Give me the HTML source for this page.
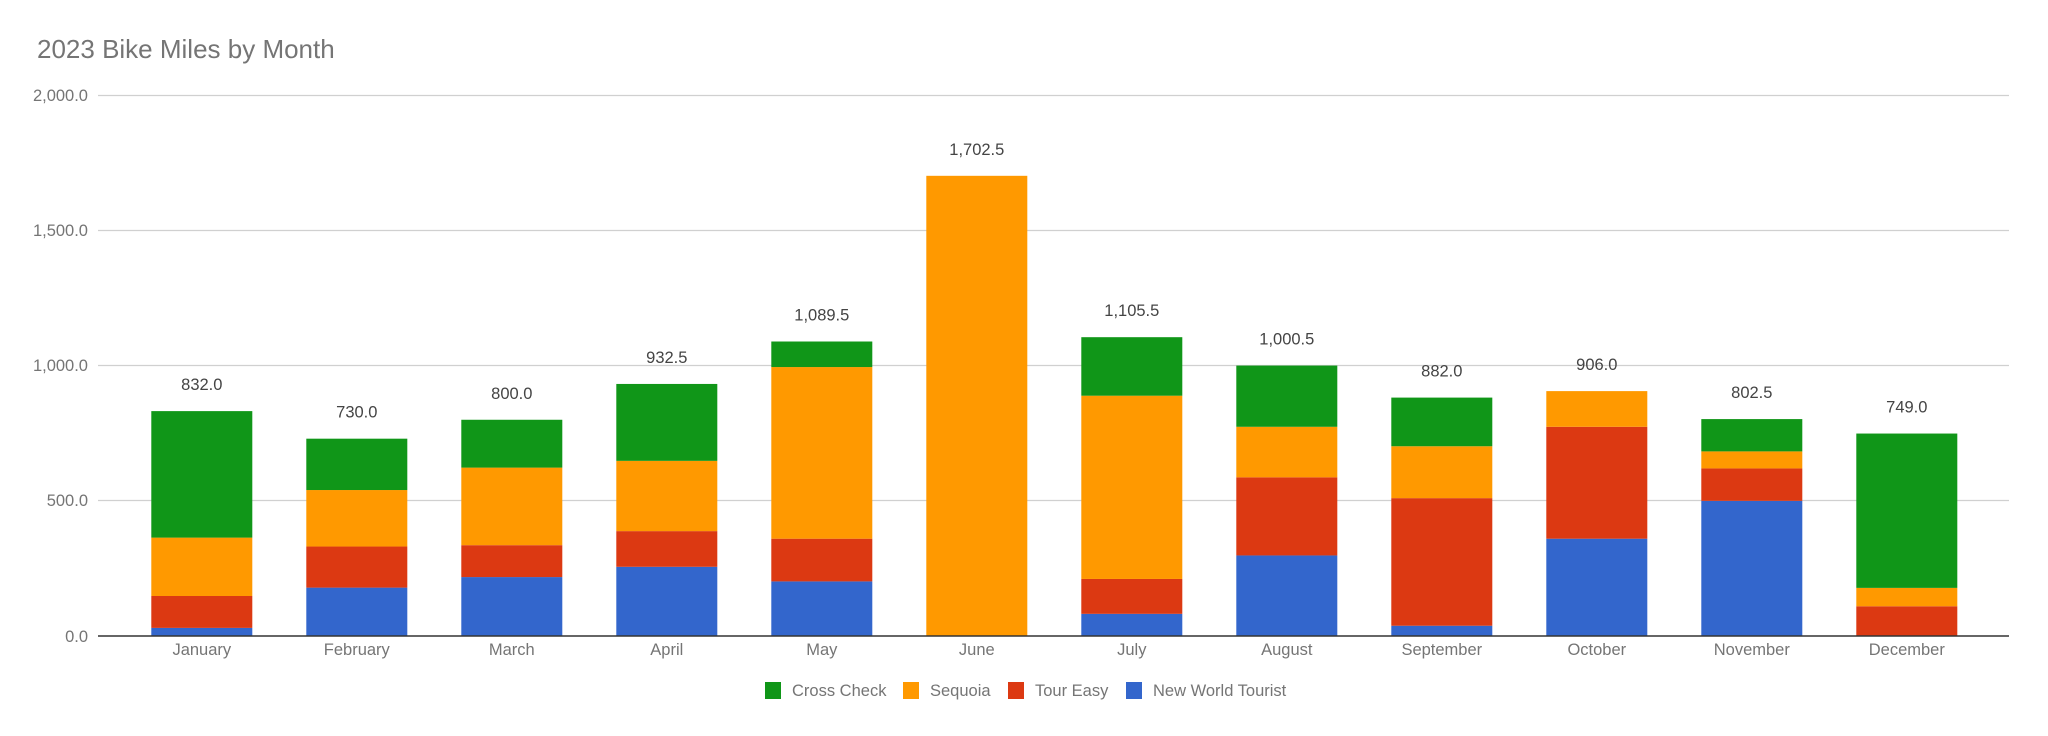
<!DOCTYPE html>
<html><head><meta charset="utf-8"><style>
html,body{margin:0;padding:0;background:#fff;}
svg{display:block;font-family:"Liberation Sans",Arial,sans-serif;}
</style></head><body>
<svg width="2048" height="736" viewBox="0 0 2048 736" xmlns="http://www.w3.org/2000/svg">
<text x="37" y="58" font-size="26" fill="#757575">2023 Bike Miles by Month</text>
<g stroke="#d0d0d0" stroke-width="1.3">
<line x1="98" x2="2009" y1="95.5" y2="95.5"/>
<line x1="98" x2="2009" y1="230.5" y2="230.5"/>
<line x1="98" x2="2009" y1="365.5" y2="365.5"/>
<line x1="98" x2="2009" y1="500.5" y2="500.5"/>
</g>
<g font-size="16.5" fill="#757575" text-anchor="end">
<text x="88" y="101">2,000.0</text>
<text x="88" y="236">1,500.0</text>
<text x="88" y="371">1,000.0</text>
<text x="88" y="506">500.0</text>
<text x="88" y="642">0.0</text>
</g>
<g id="bars"></g>
<line x1="98" x2="2009" y1="636" y2="636" stroke="#333" stroke-width="1.6"/>
<g font-size="16.5" fill="#757575" text-anchor="middle" id="months"></g>
<g font-size="16.5" fill="#444" text-anchor="middle" id="totals"></g>
<g font-size="16.5" fill="#757575">
<rect x="765" y="682" width="16" height="17" fill="#109618"/><text x="792" y="696">Cross Check</text>
<rect x="903" y="682" width="16" height="17" fill="#ff9900"/><text x="930" y="696">Sequoia</text>
<rect x="1008" y="682" width="16" height="17" fill="#dc3912"/><text x="1035" y="696">Tour Easy</text>
<rect x="1126" y="682" width="16" height="17" fill="#3366cc"/><text x="1153" y="696">New World Tourist</text>
</g>
<script>
var d=[["January",30,148,364,832,"832.0"],["February",179,331,540,730,"730.0"],["March",218,336,623,800,"800.0"],["April",256,388,648,932.5,"932.5"],["May",202,360,995,1089.5,"1,089.5"],["June",0,0,1702.5,1702.5,"1,702.5"],["July",82,211,889,1105.5,"1,105.5"],["August",298,587,774,1000.5,"1,000.5"],["September",38,510,702,882,"882.0"],["October",360,774,906,906,"906.0"],["November",500,620,683,802.5,"802.5"],["December",0,110,178,749,"749.0"]];
var cols=["#3366cc","#dc3912","#ff9900","#109618"];
var ns="http://www.w3.org/2000/svg",b=document.getElementById("bars"),m=document.getElementById("months"),t=document.getElementById("totals");
function Y(v){return 636-v*0.2703;}
d.forEach(function(r,i){var cx=201.8+i*155,x=cx-50.5,prev=0;
for(var k=0;k<4;k++){var v=r[k+1];if(v>prev){var e=document.createElementNS(ns,"rect");e.setAttribute("x",x);e.setAttribute("width",101);e.setAttribute("y",Y(v));e.setAttribute("height",Y(prev)-Y(v));e.setAttribute("fill",cols[k]);b.appendChild(e);}prev=Math.max(prev,v);}
var a=document.createElementNS(ns,"text");a.setAttribute("x",cx);a.setAttribute("y",655);a.textContent=r[0];m.appendChild(a);
var c=document.createElementNS(ns,"text");c.setAttribute("x",cx);c.setAttribute("y",Y(r[4])-21);c.textContent=r[5];t.appendChild(c);});
</script>
</svg>
</body></html>
